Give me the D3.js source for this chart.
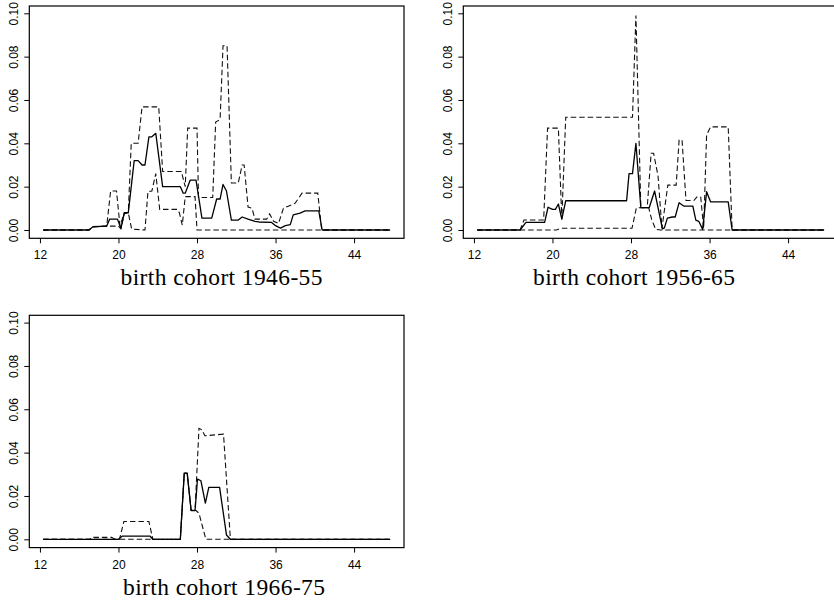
<!DOCTYPE html>
<html><head><meta charset="utf-8">
<script src="https://cdn.jsdelivr.net/npm/d3@7/dist/d3.min.js"></script>
<style>body{margin:0;background:#fff}</style>
</head><body><svg id="chart" width="834" height="604"></svg>
<script>
// ---------- data ----------
const xTicks = [12, 20, 28, 36, 44];
const yTicks = [0, 0.02, 0.04, 0.06, 0.08, 0.10];
const titles = ["birth cohort 1946-55", "birth cohort 1956-65", "birth cohort 1966-75"];

// cohort 1946-55: [age, value]
const est4655 = [[12.33,0],[17.0,0],[17.4,0.0015],[18.8,0.0018],[19.1,0.005],[19.9,0.005],[20.25,0.0008],[20.6,0.008],[21.0,0.008],[21.6,0.032],[22.0,0.032],[22.4,0.030],[22.7,0.030],[23.1,0.043],[23.4,0.043],[23.8,0.0446],[24.5,0.020],[26.3,0.020],[26.6,0.017],[26.8,0.017],[27.3,0.023],[27.9,0.023],[28.5,0.0055],[29.5,0.0055],[30.0,0.0143],[30.35,0.0143],[30.65,0.021],[31.0,0.018],[31.5,0.0046],[32.2,0.0046],[32.6,0.006],[33.2,0.005],[33.9,0.004],[34.3,0.0037],[35.6,0.0035],[36.0,0.002],[36.5,0.0009],[37.0,0.002],[37.5,0.0025],[37.8,0.007],[38.5,0.0078],[39.0,0.0088],[40.4,0.0088],[40.75,0],[47.67,0]];
const upp4655 = [[12.33,0],[17.0,0],[17.4,0.0015],[18.8,0.0018],[19.2,0.018],[19.8,0.018],[20.15,0.002],[20.6,0.0078],[21.0,0.008],[21.3,0.040],[22.0,0.040],[22.4,0.0568],[24.1,0.0568],[24.5,0.027],[26.4,0.027],[26.8,0.020],[27.05,0.047],[28.0,0.047],[28.15,0.015],[29.6,0.015],[29.9,0.0498],[30.35,0.051],[30.65,0.085],[31.06,0.085],[31.5,0.0217],[32.2,0.0217],[32.6,0.030],[32.8,0.030],[33.2,0.0106],[33.6,0.010],[33.9,0.005],[35.1,0.005],[35.4,0.0074],[35.8,0.004],[36.3,0.003],[36.8,0.010],[37.3,0.011],[38.0,0.0124],[38.7,0.017],[40.3,0.017],[40.7,0],[47.67,0]];
const low4655 = [[12.33,0],[17.0,0],[17.4,0.0015],[18.8,0.0018],[20.0,0.0018],[20.25,0.0005],[20.6,0.0078],[21.0,0.0078],[21.35,0.0004],[22.7,0],[23.0,0.0177],[23.4,0.018],[23.8,0.026],[24.2,0.0095],[26.0,0.0095],[26.2,0.008],[26.5,0.0023],[26.8,0.0154],[27.8,0.0154],[28.0,0],[47.67,0]];

// cohort 1956-65
const est5665 = [[12.33,0],[16.7,0],[17.3,0.0035],[19.2,0.0035],[19.55,0.0105],[20.0,0.0095],[20.3,0.0095],[20.6,0.012],[20.95,0.005],[21.35,0.0135],[27.55,0.0135],[27.8,0.026],[28.15,0.026],[28.5,0.040],[29.0,0.0103],[29.85,0.0103],[30.4,0.018],[31.2,0.0005],[31.4,0.001],[31.7,0.0055],[32.2,0.006],[32.5,0.006],[32.9,0.0126],[33.4,0.011],[34.3,0.011],[34.6,0.0046],[34.9,0.004],[35.3,0.0003],[35.7,0.0177],[36.1,0.013],[37.9,0.013],[38.3,0],[47.67,0]];
const upp5665 = [[12.33,0],[16.7,0],[17.1,0.0046],[19.1,0.0046],[19.5,0.047],[20.6,0.047],[20.95,0.005],[21.35,0.052],[28.15,0.052],[28.5,0.099],[29.0,0.0103],[29.65,0.0103],[30.05,0.0354],[30.3,0.0354],[30.75,0.025],[31.15,0.0008],[31.75,0.0207],[32.6,0.0207],[32.9,0.0415],[33.2,0.0415],[33.6,0.0136],[34.4,0.0136],[34.7,0.0152],[35.1,0.0152],[35.4,0.0008],[35.7,0.0438],[36.1,0.0476],[37.9,0.0476],[38.3,0],[47.67,0]];
const low5665 = [[12.33,0],[20.4,0],[20.9,0.0008],[28.1,0.0008],[28.55,0.0103],[29.8,0.0103],[30.1,0.005],[30.5,0.0003],[31.0,0],[47.67,0]];

// cohort 1966-75
const est6675 = [[12.33,0],[20.0,0],[20.4,0.0015],[23.2,0.0015],[23.5,0],[26.3,0],[26.7,0.0305],[27.0,0.0305],[27.4,0.0133],[27.8,0.0133],[28.05,0.0278],[28.4,0.027],[28.85,0.0167],[29.2,0.024],[30.3,0.024],[31.0,0.002],[31.4,0],[47.67,0]];
const upp6675 = [[12.33,0],[17.1,0],[17.3,0.0009],[19.3,0.0009],[19.65,0],[20.1,0],[20.55,0.0082],[23.1,0.0082],[23.5,0],[26.3,0],[26.7,0.0305],[27.0,0.0305],[27.4,0.0133],[27.8,0.0133],[28.2,0.0512],[28.5,0.0505],[28.8,0.0478],[30.7,0.0485],[31.4,0],[47.67,0]];
const low6675 = [[12.33,0],[26.3,0],[26.7,0.0305],[27.0,0.0305],[27.4,0.0133],[27.9,0.0133],[28.2,0.012],[28.9,0],[47.67,0]];

// ---------- layout ----------
const panels = [
  {title: titles[0], est: est4655, upp: upp4655, low: low4655, ox: 0,   oy: 0,     tx: 221.5, ty: 285},
  {title: titles[1], est: est5665, upp: upp5665, low: low5665, ox: 434, oy: 0,     tx: 200,   ty: 285},
  {title: titles[2], est: est6675, upp: upp6675, low: low6675, ox: 0,   oy: 309.3, tx: 224,   ty: 286}
];
const box = {left: 29.3, top: 6, width: 374.7, height: 232.3};
const xDataMin = 12.33, xDataMax = 47.67;
const pad = 0.04 * (xDataMax - xDataMin);

const svg = d3.select("#chart");

panels.forEach(p => {
  const g = svg.append("g").attr("transform", `translate(${p.ox},${p.oy})`);
  const x = d3.scaleLinear().domain([xDataMin - pad, xDataMax + pad]).range([box.left, box.left + box.width]);
  const y = d3.scaleLinear().domain([0, 0.10]).range([230, 13.3]);
  const bottom = box.top + box.height;

  const line = d3.line().x(d => x(d[0])).y(d => y(d[1]));

  g.append("path").datum(p.upp).attr("d", line)
    .attr("fill", "none").attr("stroke", "#111").attr("stroke-width", 1.1)
    .attr("stroke-dasharray", "5.5,3");
  g.append("path").datum(p.low).attr("d", line)
    .attr("fill", "none").attr("stroke", "#111").attr("stroke-width", 1.1)
    .attr("stroke-dasharray", "5.5,3");
  g.append("path").datum(p.est).attr("d", line)
    .attr("fill", "none").attr("stroke", "#000").attr("stroke-width", 1.3)
    .attr("stroke-linejoin", "round");

  // box
  g.append("rect").attr("x", box.left).attr("y", box.top)
    .attr("width", box.width).attr("height", box.height)
    .attr("fill", "none").attr("stroke", "#000").attr("stroke-width", 1.2);

  // x axis
  const xa = g.append("g").attr("transform", `translate(0,${bottom})`)
    .call(d3.axisBottom(x).tickValues(xTicks).tickSize(5).tickPadding(4).tickFormat(d3.format("d")));
  xa.select(".domain").remove();
  xa.selectAll("line").attr("stroke", "#000").attr("stroke-width", 1);
  xa.selectAll("text").attr("font-family", "'Liberation Sans', Arial, sans-serif")
    .attr("font-size", 12).attr("fill", "#000").attr("dy", null).attr("y", 21);

  // y axis
  const ya = g.append("g").attr("transform", `translate(${box.left},0)`)
    .call(d3.axisLeft(y).tickValues(yTicks).tickSize(5).tickFormat(d3.format(".2f")));
  ya.select(".domain").remove();
  ya.selectAll("line").attr("stroke", "#000").attr("stroke-width", 1);
  ya.selectAll("text").attr("font-family", "'Liberation Sans', Arial, sans-serif")
    .attr("font-size", 12).attr("fill", "#000")
    .attr("x", null).attr("dy", null)
    .attr("text-anchor", "middle")
    .attr("transform", "translate(-11,0) rotate(-90)");

  // title
  g.append("text").attr("x", p.tx).attr("y", p.ty)
    .attr("text-anchor", "middle")
    .attr("font-family", "'Liberation Serif', 'Times New Roman', serif")
    .attr("font-size", 23.5).attr("fill", "#000")
    .attr("textLength", 202).attr("lengthAdjust", "spacing")
    .text(p.title);
});
</script>
</body></html>
